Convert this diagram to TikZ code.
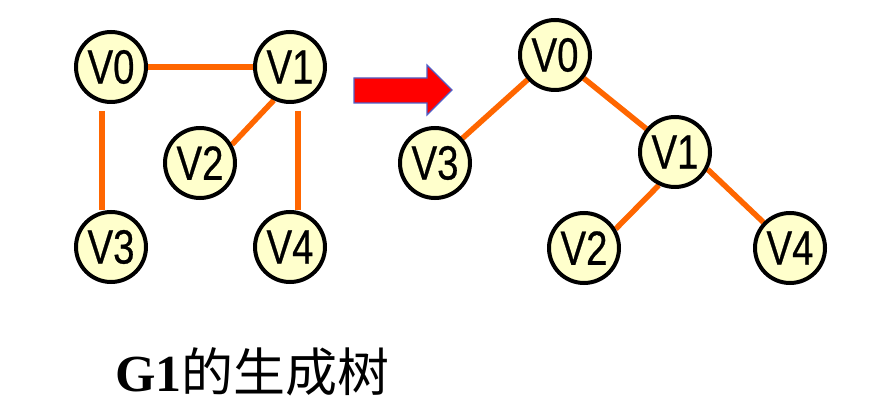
\documentclass[tikz,border=0pt]{standalone}
\usepackage{fontspec}
\setmainfont{Liberation Sans}
\newfontfamily\vfont[FakeBold=0.6]{Liberation Sans}
\newfontfamily\cjk{Noto Sans CJK SC}
\newfontfamily\serifl{Liberation Serif}
\usetikzlibrary{backgrounds}
\definecolor{edgeor}{HTML}{FF6600}
\definecolor{vfill}{HTML}{FFFFCC}
\definecolor{arrred}{HTML}{FF0000}
\definecolor{arrblue}{HTML}{4F5FC8}
\newcommand{\vlab}[1]{\scalebox{0.8}[1]{#1}}
\tikzset{
  vtx/.style={circle, draw=black, line width=4pt, fill=vfill, minimum size=70pt, inner sep=0pt,
    font=\vfont\fontsize{48}{48}\selectfont},
  edg/.style={draw=edgeor, line width=5.5pt},
}
\begin{document}
\begin{tikzpicture}[x=1pt,y=-1pt]
\useasboundingbox (0,0) rectangle (880,411);
% left graph
\node[vtx] (a0) at (111,67) {\vlab{V0}};
\node[vtx] (a1) at (290,67) {\vlab{V1}};
\node[vtx] (a2) at (200,163) {\vlab{V2}};
\node[vtx] (a3) at (111,247) {\vlab{V3}};
\node[vtx] (a4) at (290,247) {\vlab{V4}};
% right tree
\node[vtx] (b0) at (555,55) {\vlab{V0}};
\node[vtx] (b3) at (435,163) {\vlab{V3}};
\node[vtx] (b1) at (675,152) {\vlab{V1}};
\node[vtx] (b2) at (584,248) {\vlab{V2}};
\node[vtx] (b4) at (790,248) {\vlab{V4}};
\begin{scope}[on background layer]
\draw[edg] (a0) -- (a1);
\draw[edg] ([xshift=-9pt,yshift=-7pt]a0.south) -- ([xshift=-9pt]a3.north);
\draw[edg] ([xshift=8pt,yshift=-7pt]a1.south) -- ([xshift=8pt]a4.north);
\draw[edg] (a1.244) -- (a2.30);
\draw[edg] (b0) -- (b3);
\draw[edg] (b0) -- (b1);
\draw[edg] (b1.244) -- (b2.31);
\draw[edg] (b1.-28) -- (b4.136);
\end{scope}
% arrow
\draw[draw=arrblue, fill=arrred, line width=1.2pt, line join=miter]
  (354,78) -- (427,78) -- (427,65) -- (452,90) -- (427,115) -- (427,103) -- (354,103) -- cycle;
% caption
\node[anchor=base west, inner sep=0pt] (cap) at (115,391)
  {\fontsize{52}{52}\selectfont{\serifl\bfseries G1}\cjk 的生成树};
\end{tikzpicture}
\end{document}
